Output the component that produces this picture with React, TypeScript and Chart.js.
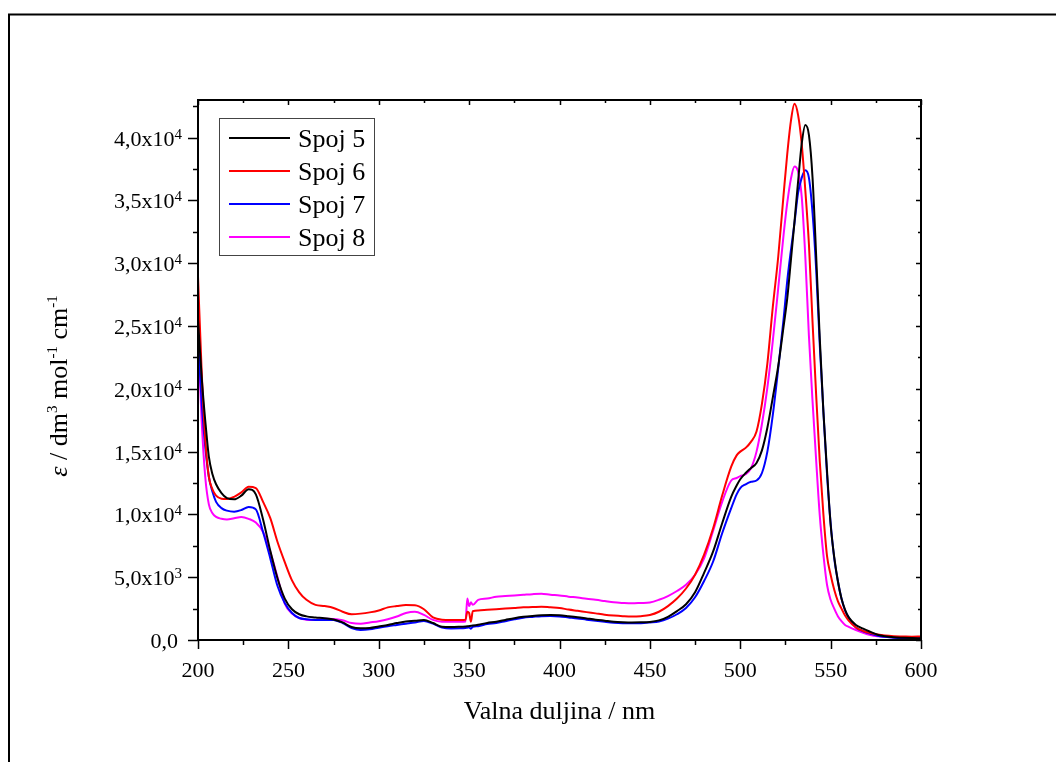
import React, { useEffect, useRef } from "react";
import { Chart, registerables } from "chart.js";

Chart.register(...registerables);

// ---- data ----
const WAVELENGTH = [
  200, 202, 204, 206, 208, 210, 213, 216, 220, 224,
  228, 232, 236, 240, 244, 248, 252, 256, 260, 265,
  270, 275, 280, 285, 290, 295, 300, 305, 310, 315,
  320, 325, 330, 335, 340, 345, 348, 349, 350, 351,
  352, 355, 360, 365, 370, 375, 380, 385, 390, 395,
  400, 405, 410, 415, 420, 425, 430, 435, 440, 445,
  450, 455, 460, 465, 470, 475, 480, 485, 490, 495,
  498, 500, 503, 506, 509, 512, 515, 518, 521, 524,
  526, 528, 530, 532, 534, 536, 538, 540, 542, 544,
  546, 548, 550, 552, 554, 556, 558, 560, 564, 568,
  572, 576, 580, 585, 590, 595, 600,
];

const SPOJ5 = [
  25500, 21000, 17500, 14600, 13200, 12400, 11700, 11300, 11200, 11500,
  12000, 11600, 9600, 7100, 4900, 3300, 2450, 2050, 1880, 1800,
  1730, 1640, 1400, 1030, 930, 960, 1080, 1200, 1350, 1480,
  1530, 1600, 1350, 1060, 1040, 1060, 1080, 1090, 1110, 1130,
  1150, 1220, 1360, 1460, 1600, 1740, 1850, 1920, 1970, 1990,
  1970, 1900, 1820, 1720, 1620, 1540, 1460, 1420, 1400, 1410,
  1440, 1560, 1850, 2300, 2850, 3800, 5350, 7050, 9300, 11400,
  12300, 12800, 13300, 13700, 14100, 15100, 16900, 19300, 21800, 25000,
  27200, 30200, 33300, 36500, 39500, 41000, 40200, 36800, 30600, 24000,
  18200, 13500, 9200, 6600, 4700, 3300, 2400, 1800, 1200, 900,
  650, 420, 300, 220, 180, 150, 130,
];

const SPOJ6 = [
  28950, 21500, 16000, 13000, 12000, 11500, 11250, 11220, 11400, 11750,
  12200, 12100, 11000, 9700, 7800, 6200, 4750, 3800, 3200, 2800,
  2700, 2550, 2250, 2050, 2100, 2200, 2350, 2600, 2700, 2780,
  2760, 2450, 1800, 1620, 1600, 1600, 1620, 2250, 2150, 1450,
  2300, 2350, 2400, 2450, 2500, 2550, 2600, 2620, 2650, 2600,
  2550, 2420, 2320, 2220, 2120, 2020, 1950, 1900, 1870, 1900,
  1990, 2250, 2700, 3300, 4100, 5200, 6800, 8900, 11500, 13800,
  14700, 15000, 15300, 15800, 16600, 18800, 22000, 26500, 30500, 35500,
  38700, 41300, 42700, 41800, 39500, 35800, 31500, 25300, 19500, 14200,
  10000, 6700, 5200, 4000, 3100, 2500, 1950, 1550, 1000, 720,
  550, 430, 350, 300, 280, 260, 280,
];

const SPOJ7 = [
  24000, 19000, 15400, 13000, 11800, 11000, 10500, 10300, 10220, 10350,
  10600, 10400, 8600, 6500, 4300, 2950, 2150, 1750, 1650, 1600,
  1600, 1590, 1350, 960, 800, 850, 980, 1100, 1200, 1300,
  1400, 1520, 1300, 1000, 920, 930, 960, 980, 1000, 900,
  1050, 1100, 1280, 1350, 1500, 1650, 1780, 1840, 1900, 1910,
  1880, 1800, 1720, 1620, 1530, 1450, 1380, 1340, 1330, 1340,
  1400, 1480, 1700, 2050, 2550, 3400, 4700, 6250, 8500, 10500,
  11600, 12100, 12400, 12600, 12700, 13300, 15000, 17900, 21600, 25600,
  28600, 31000, 33200, 35600, 36800, 37400, 36800, 34000, 29500, 23500,
  18200, 13200, 9300, 6500, 4700, 3300, 2350, 1800, 1000, 700,
  500, 330, 250, 180, 140, 120, 100,
];

const SPOJ8 = [
  24500, 17500, 13000, 10800, 10100, 9800, 9650, 9600, 9700, 9800,
  9650, 9350, 8600, 7000, 5000, 2900, 2100, 1750, 1620, 1600,
  1700, 1680, 1570, 1350, 1300, 1400, 1500, 1650, 1870, 2150,
  2250, 2000, 1600, 1460, 1450, 1450, 1470, 3300, 2700, 3000,
  2800, 3200, 3300, 3450, 3500, 3550, 3600, 3650, 3680, 3600,
  3550, 3450, 3380, 3280, 3200, 3100, 3000, 2950, 2920, 2950,
  2990, 3200, 3500, 3900, 4400, 5200, 6500, 8700, 11000, 12700,
  12900, 13050, 13200, 13700, 15000, 17200, 20100, 23800, 28000, 32300,
  34800, 36700, 37700, 37300, 35300, 30500, 24200, 19000, 14300, 9900,
  6800, 4400, 3200, 2500, 1900, 1500, 1200, 1050, 800, 580,
  400, 300, 250, 220, 200, 180, 170,
];

const SERIES_NAMES = ["Spoj 5", "Spoj 6", "Spoj 7", "Spoj 8"];
const SERIES_COLORS = ["#000000", "#ff0000", "#0000ff", "#ff00ff"];

const X_TICKS = [200, 250, 300, 350, 400, 450, 500, 550, 600];
const X_TICK_LABELS = ["200", "250", "300", "350", "400", "450", "500", "550", "600"];
const Y_TICKS = [0, 5000, 10000, 15000, 20000, 25000, 30000, 35000, 40000];
const Y_TICK_MANTISSA = ["0,0", "5,0x10", "1,0x10", "1,5x10", "2,0x10", "2,5x10", "3,0x10", "3,5x10", "4,0x10"];
const Y_TICK_EXPONENT = ["", "3", "4", "4", "4", "4", "4", "4", "4"];

const X_TITLE = "Valna duljina / nm";
const Y_TITLE_PARTS: { t: string; sup?: boolean; italic?: boolean }[] = [
  { t: "ε", italic: true },
  { t: " / dm" },
  { t: "3", sup: true },
  { t: " mol" },
  { t: "-1", sup: true },
  { t: " cm" },
  { t: "-1", sup: true },
];

const FONT = "'Liberation Serif', 'Times New Roman', serif";

const decorPlugin = {
  id: "decor",
  afterDraw(chart: any) {
    const { ctx, chartArea, scales } = chart;
    const { left, right, top, bottom } = chartArea;
    const xs = scales.x;
    const ys = scales.y;
    ctx.save();

    // outer figure border (top + left)
    ctx.strokeStyle = "#000";
    ctx.lineWidth = 2;
    ctx.beginPath();
    ctx.moveTo(9, 762);
    ctx.lineTo(9, 14.5);
    ctx.lineTo(1056, 14.5);
    ctx.stroke();

    // plot frame
    ctx.lineWidth = 2;
    ctx.strokeRect(left, top, right - left, bottom - top);

    // x ticks
    ctx.lineWidth = 1.5;
    for (let v = 200; v <= 600; v += 25) {
      const px = Math.round(xs.getPixelForValue(v)) + 0.5;
      const major = v % 50 === 0;
      ctx.beginPath();
      ctx.moveTo(px, bottom);
      ctx.lineTo(px, bottom + (major ? 9 : 5));
      ctx.moveTo(px, top);
      ctx.lineTo(px, top + (major ? 5 : 3));
      ctx.stroke();
    }
    // y ticks
    for (let v = 0; v <= 42500; v += 2500) {
      const py = Math.round(ys.getPixelForValue(v)) + 0.5;
      const major = v % 5000 === 0;
      ctx.beginPath();
      ctx.moveTo(left, py);
      ctx.lineTo(left - (major ? 10 : 5), py);
      ctx.moveTo(right, py);
      ctx.lineTo(right - (major ? 5 : 3), py);
      ctx.stroke();
    }

    ctx.fillStyle = "#000";
    // x tick labels
    ctx.font = `22px ${FONT}`;
    ctx.textAlign = "center";
    ctx.textBaseline = "alphabetic";
    X_TICKS.forEach((v, i) => {
      ctx.fillText(X_TICK_LABELS[i], xs.getPixelForValue(v), bottom + 37);
    });

    // y tick labels with superscripts
    Y_TICKS.forEach((v, i) => {
      const py = ys.getPixelForValue(v);
      const exp = Y_TICK_EXPONENT[i];
      ctx.textAlign = "right";
      if (exp) {
        ctx.font = `15px ${FONT}`;
        const ew = ctx.measureText(exp).width;
        ctx.fillText(exp, 182, py + 1);
        ctx.font = `22px ${FONT}`;
        ctx.fillText(Y_TICK_MANTISSA[i], 182 - ew, py + 8);
      } else {
        ctx.font = `22px ${FONT}`;
        ctx.fillText(Y_TICK_MANTISSA[i], 178, py + 8);
      }
    });

    // x title
    ctx.font = `26px ${FONT}`;
    ctx.textAlign = "center";
    ctx.fillText(X_TITLE, (left + right) / 2, 719);

    // y title (rotated) with superscripts
    ctx.save();
    ctx.translate(67, 386);
    ctx.rotate(-Math.PI / 2);
    ctx.textAlign = "left";
    const fontFor = (p: any) =>
      p.sup ? `15px ${FONT}` : `${p.italic ? "italic " : ""}26px ${FONT}`;
    let total = 0;
    Y_TITLE_PARTS.forEach((p) => {
      ctx.font = fontFor(p);
      total += ctx.measureText(p.t).width;
    });
    let cx = -total / 2;
    Y_TITLE_PARTS.forEach((p) => {
      ctx.font = fontFor(p);
      ctx.fillText(p.t, cx, p.sup ? -10 : 0);
      cx += ctx.measureText(p.t).width;
    });
    ctx.restore();

    // legend
    ctx.strokeStyle = "#444";
    ctx.lineWidth = 1;
    ctx.strokeRect(219.5, 118.5, 155, 137);
    SERIES_NAMES.forEach((name, i) => {
      const ly = 138 + i * 33;
      ctx.strokeStyle = SERIES_COLORS[i];
      ctx.lineWidth = 2;
      ctx.beginPath();
      ctx.moveTo(229, ly);
      ctx.lineTo(290, ly);
      ctx.stroke();
      ctx.font = `26px ${FONT}`;
      ctx.textAlign = "left";
      ctx.fillStyle = "#000";
      ctx.fillText(name, 298, ly + 9);
    });

    ctx.restore();
  },
};

export default function App() {
  const canvasRef = useRef<HTMLCanvasElement | null>(null);

  useEffect(() => {
    const canvas = canvasRef.current;
    if (!canvas) return;
    const seriesValues = [SPOJ5, SPOJ6, SPOJ7, SPOJ8];
    const chart = new Chart(canvas, {
      type: "line",
      data: {
        datasets: seriesValues.map((vals, k) => ({
          label: SERIES_NAMES[k],
          data: WAVELENGTH.map((w, i) => ({ x: w, y: vals[i] })),
          borderColor: SERIES_COLORS[k],
          backgroundColor: SERIES_COLORS[k],
          borderWidth: 2,
          pointRadius: 0,
          cubicInterpolationMode: "monotone" as const,
          fill: false,
        })),
      },
      options: {
        responsive: false,
        animation: false,
        events: [],
        layout: { padding: { left: 198, top: 100, right: 135, bottom: 122 } },
        plugins: { legend: { display: false }, tooltip: { enabled: false } },
        scales: {
          x: { type: "linear", min: 200, max: 600, display: false },
          y: { type: "linear", min: 0, max: 43000, display: false },
        },
      },
      plugins: [decorPlugin],
    });
    return () => chart.destroy();
  }, []);

  return (
    <div style={{ position: "fixed", left: 0, top: 0, width: 1056, height: 762, background: "#fff" }}>
      <canvas ref={canvasRef} width={1056} height={762} style={{ display: "block" }} />
    </div>
  );
}
